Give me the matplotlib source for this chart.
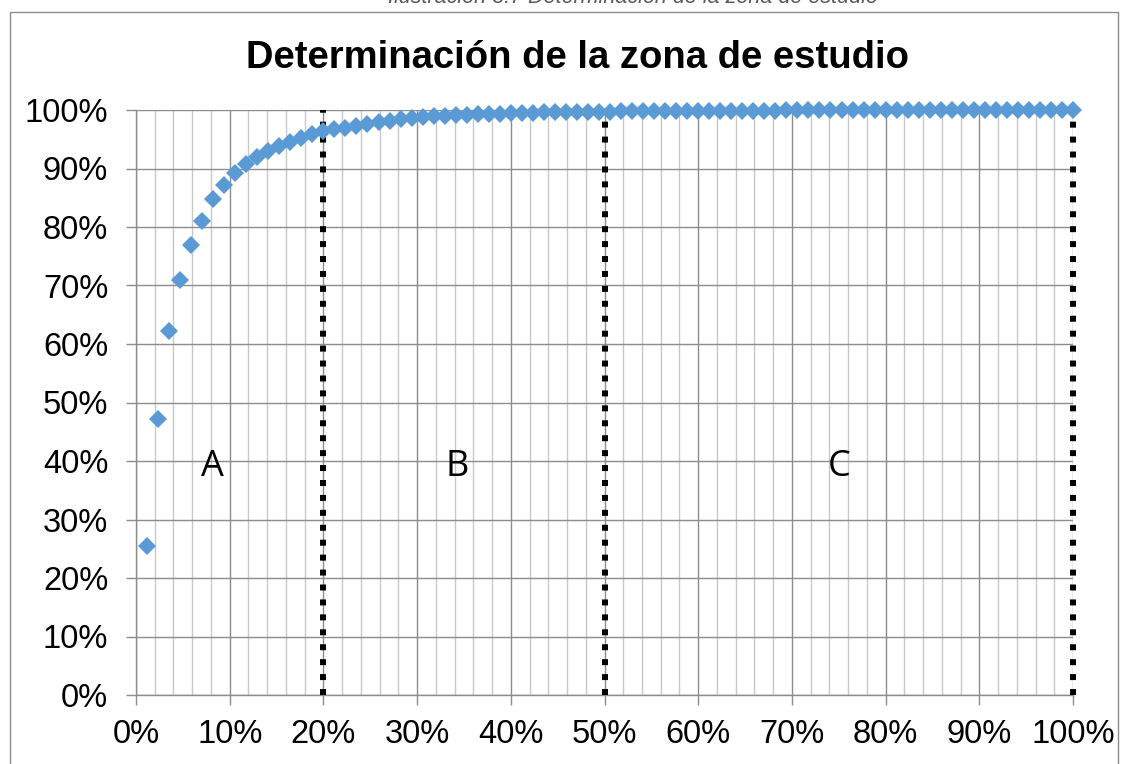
import matplotlib
matplotlib.use("Agg")
import matplotlib.pyplot as plt
from matplotlib.ticker import MultipleLocator, PercentFormatter
from matplotlib.patches import Rectangle

# Cumulative share (%) for each of the 85 ranked elements
cumulative_pct = [
    25.5, 47.1, 62.3, 71.0, 77.0, 81.1, 84.8, 87.2, 89.2, 90.8,
    91.9, 93.0, 93.8, 94.6, 95.2, 95.9, 96.4, 96.7, 97.0, 97.3,
    97.6, 97.9, 98.2, 98.4, 98.6, 98.8, 98.9, 99.0, 99.1, 99.2,
    99.3, 99.35, 99.4, 99.45, 99.5, 99.55, 99.6, 99.62, 99.65, 99.68,
    99.7, 99.72, 99.74, 99.76, 99.78, 99.8, 99.81, 99.82, 99.83, 99.84,
    99.85, 99.86, 99.87, 99.88, 99.89, 99.9, 99.9, 99.91, 99.92, 99.92,
    99.93, 99.94, 99.94, 99.95, 99.95, 99.96, 99.96, 99.97, 99.97, 99.97,
    99.98, 99.98, 99.98, 99.98, 99.99, 99.99, 99.99, 99.99, 99.99, 100.0,
    100.0, 100.0, 100.0, 100.0, 100.0,
]
n_items = len(cumulative_pct)
share_pct = [100.0 * (i + 1) / n_items for i in range(n_items)]

# Zone limits and labels
zone_limits = [20, 50, 100]
zone_names = ["A", "B", "C"]
zone_label_x = [8.2, 34.3, 75.1]
zone_label_y = 39

title = "Determinación de la zona de estudio"
caption = "Ilustración 3.7 Determinación de la zona de estudio"

fig = plt.figure(figsize=(11.31, 7.64), dpi=100)
fig.patch.set_facecolor("white")

# caption above the chart frame (mostly outside the canvas)
fig.text(0.56, 1.003, caption, ha="center", va="center", fontsize=15.5,
         style="italic", color="#595959", family="Liberation Sans")

# chart frame
fig.patches.append(Rectangle((10 / 1131, -0.1), 1108 / 1131, 1.1 - 12 / 764,
                             transform=fig.transFigure, fill=False,
                             edgecolor="#8c8c8c", linewidth=1.0))

ax = fig.add_axes([136 / 1131, 1 - 695 / 764, (1073 - 136) / 1131, (695 - 110) / 764])

ax.set_xlim(0, 100)
ax.set_ylim(0, 100)

ax.xaxis.set_major_locator(MultipleLocator(10))
ax.xaxis.set_minor_locator(MultipleLocator(2))
ax.yaxis.set_major_locator(MultipleLocator(10))
ax.xaxis.set_major_formatter(PercentFormatter(decimals=0))
ax.yaxis.set_major_formatter(PercentFormatter(decimals=0))

ax.grid(which="minor", axis="x", color="#c8c8c8", linewidth=1.0)
ax.grid(which="major", axis="x", color="#8c8c8c", linewidth=1.0)
ax.grid(which="major", axis="y", color="#8c8c8c", linewidth=1.0)
ax.set_axisbelow(True)

for side in ["top", "right"]:
    ax.spines[side].set_visible(False)
for side in ["left", "bottom"]:
    ax.spines[side].set_color("#8c8c8c")
    ax.spines[side].set_linewidth(1.0)

ax.tick_params(axis="both", which="major", direction="out", length=7,
               width=1.0, color="#8c8c8c", labelsize=23.5, labelcolor="black")
ax.tick_params(axis="x", which="major", pad=10)
ax.tick_params(axis="y", which="major", pad=13)
ax.tick_params(axis="x", which="minor", length=0)
for lab in ax.get_xticklabels() + ax.get_yticklabels():
    lab.set_family("Liberation Sans")

# zone boundaries
for xv in zone_limits:
    ax.plot([xv, xv], [0, 100], color="black", linewidth=4.3,
            dashes=(1, 1.5), dash_capstyle="butt", zorder=3, clip_on=False)

# cumulative curve points
ax.plot(share_pct, cumulative_pct, linestyle="none", marker="D",
        markersize=9.3, markeredgewidth=0, color="#5b9bd5", zorder=4,
        clip_on=False)

for name, xv in zip(zone_names, zone_label_x):
    ax.text(xv, zone_label_y, name, ha="center", va="center", fontsize=26,
            family="Open Sans", color="black")

fig.text(577 / 1131, 1 - 58 / 764, title, ha="center", va="center",
         fontsize=27.5, fontweight="bold", family="Liberation Sans")

fig.savefig("out.png", dpi=100, facecolor="white")
